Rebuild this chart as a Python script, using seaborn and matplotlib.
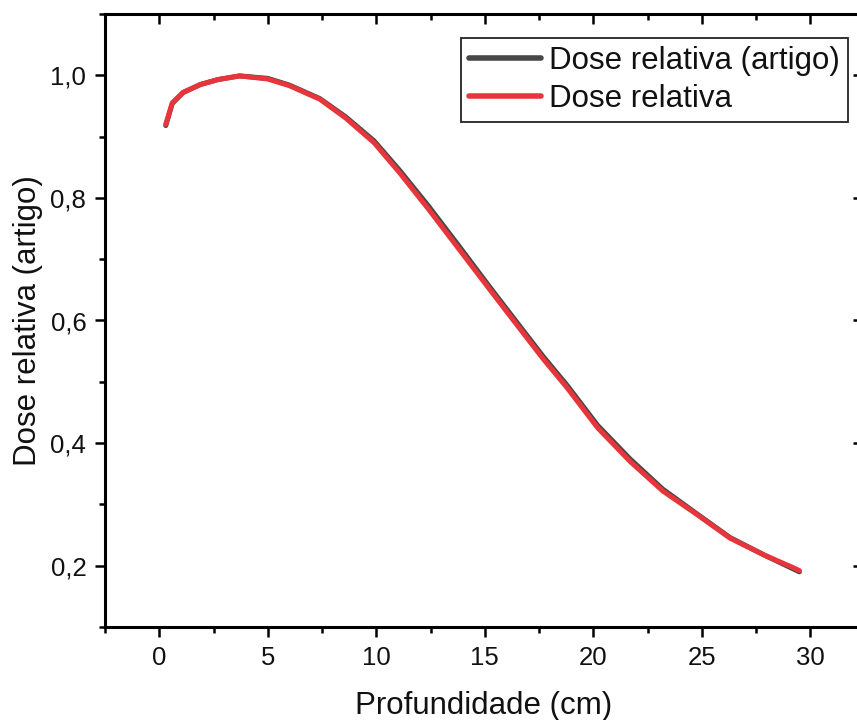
import matplotlib
matplotlib.use("Agg")
import matplotlib.pyplot as plt
from matplotlib.ticker import MultipleLocator
import seaborn as sns
import pandas as pd

# Depth-dose curves (depth in cm, dose normalised to maximum)
depth_artigo = [0.3, 0.6, 1.1, 1.9, 2.7, 3.7, 5.0, 6.0, 7.4, 8.6, 9.9, 11.1,
                12.4, 13.8, 15.2, 16.5, 17.7, 18.8, 20.2, 21.7, 23.2, 24.8,
                26.3, 27.9, 29.2, 29.5]
dose_artigo = [0.918, 0.954, 0.972, 0.985, 0.993, 0.999, 0.995, 0.984, 0.962,
               0.932, 0.893, 0.844, 0.787, 0.722, 0.656, 0.596, 0.541, 0.494,
               0.429, 0.374, 0.325, 0.284, 0.246, 0.217, 0.195, 0.190]

depth_calc = [0.3, 0.6, 1.1, 1.9, 2.7, 3.7, 5.0, 6.0, 7.4, 8.6, 9.9, 11.1,
              12.4, 13.8, 15.2, 16.5, 17.7, 18.8, 20.2, 21.7, 23.2, 24.8,
              26.3, 27.9, 29.2, 29.5]
dose_calc = [0.920, 0.955, 0.972, 0.985, 0.993, 0.999, 0.994, 0.983, 0.961,
             0.930, 0.890, 0.840, 0.782, 0.717, 0.652, 0.592, 0.537, 0.490,
             0.425, 0.370, 0.322, 0.283, 0.245, 0.217, 0.197, 0.192]

series_names = ["Dose relativa (artigo)", "Dose relativa"]
series_colors = ["#474747", "#e8353b"]

x_ticks = [0, 5, 10, 15, 20, 25, 30]
x_tick_labels = ["0", "5", "10", "15", "20", "25", "30"]
y_ticks = [0.2, 0.4, 0.6, 0.8, 1.0]
y_tick_labels = ["0,2", "0,4", "0,6", "0,8", "1,0"]

df = pd.concat([
    pd.DataFrame({"depth": depth_artigo, "dose": dose_artigo, "serie": series_names[0]}),
    pd.DataFrame({"depth": depth_calc, "dose": dose_calc, "serie": series_names[1]}),
], ignore_index=True)

sns.set_theme(style="ticks")
plt.rcParams["font.family"] = ["Liberation Sans", "DejaVu Sans"]

fig = plt.figure(figsize=(8.57, 7.2), dpi=100)
# the right edge of the frame sits just past the figure border
ax = fig.add_axes([105 / 857, 93 / 720, 758 / 857, 613 / 720])

sns.lineplot(data=df, x="depth", y="dose", hue="serie", hue_order=series_names,
             palette=series_colors, sort=False, errorbar=None, linewidth=3.6,
             ax=ax)

ax.set_xlim(-2.5, 32.43)
ax.set_ylim(0.1, 1.1)
ax.set_xticks(x_ticks)
ax.set_xticklabels(x_tick_labels)
ax.set_yticks(y_ticks)
ax.set_yticklabels(y_tick_labels)
ax.xaxis.set_minor_locator(MultipleLocator(2.5))
ax.yaxis.set_minor_locator(MultipleLocator(0.1))

for side in ["left", "right", "top", "bottom"]:
    ax.spines[side].set_visible(True)
    ax.spines[side].set_linewidth(2.2)
    ax.spines[side].set_color("black")

ax.tick_params(axis="both", which="major", length=7.5, width=1.8, color="black",
               labelsize=18.5, labelcolor="#111111")
ax.tick_params(axis="both", which="minor", length=4, width=1.8, color="black")
ax.tick_params(axis="x", which="both", direction="out", top=True, pad=6)
ax.tick_params(axis="y", which="both", direction="out", right=True, pad=6)
ax.tick_params(axis="x", which="both", top=True, labeltop=False)
ax.tick_params(axis="y", which="both", right=True, labelright=False)
# inward ticks on the top and right edges
for t in ax.xaxis.get_major_ticks() + ax.xaxis.get_minor_ticks():
    t.tick2line.set_marker(matplotlib.lines.TICKDOWN)
for t in ax.yaxis.get_major_ticks() + ax.yaxis.get_minor_ticks():
    t.tick2line.set_marker(matplotlib.lines.TICKLEFT)

ax.set_xlabel("Profundidade (cm)", fontsize=22.5, labelpad=15, color="#111111")
ax.set_ylabel("Dose relativa (artigo)", fontsize=22.5, labelpad=5, color="#111111")

leg = ax.legend(loc="upper left", bbox_to_anchor=(0.4697, 0.9608),
                borderaxespad=0, fontsize=22.5, frameon=True, fancybox=False,
                handlelength=2.3, handletextpad=0.26, labelspacing=0.24,
                borderpad=0.26)
leg.get_frame().set_edgecolor("#222222")
leg.get_frame().set_linewidth(1.3)
leg.get_frame().set_alpha(1)
for line in leg.get_lines():
    line.set_linewidth(4)
for txt in leg.get_texts():
    txt.set_color("#111111")

fig.savefig("out.png", dpi=100)
